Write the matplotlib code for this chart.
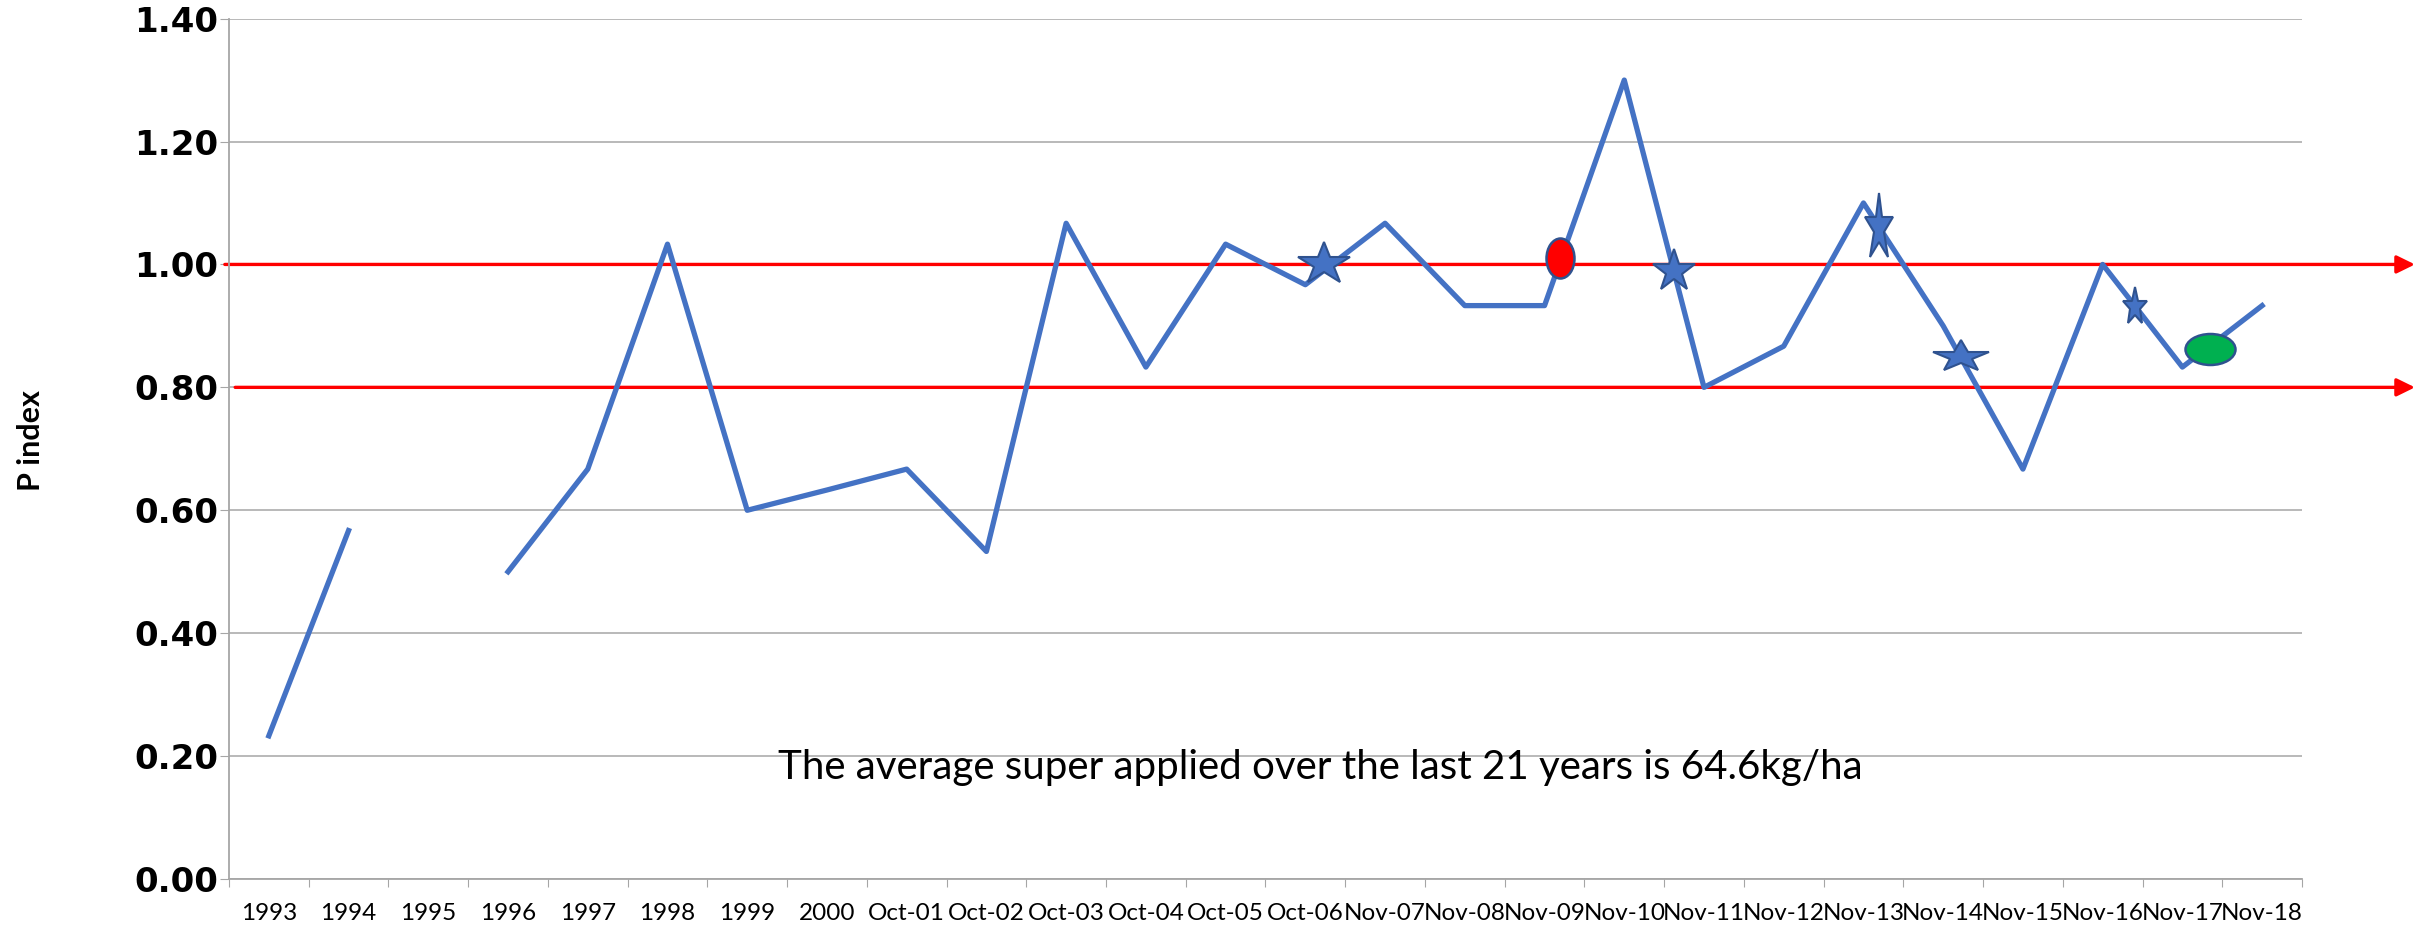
import numpy as np
import matplotlib.pyplot as plt
from matplotlib.markers import MarkerStyle
from matplotlib.transforms import Affine2D

# categories and P index values
labels = ['1993', '1994', '1995', '1996', '1997', '1998', '1999', '2000',
          'Oct-01', 'Oct-02', 'Oct-03', 'Oct-04', 'Oct-05', 'Oct-06',
          'Nov-07', 'Nov-08', 'Nov-09', 'Nov-10', 'Nov-11', 'Nov-12',
          'Nov-13', 'Nov-14', 'Nov-15', 'Nov-16', 'Nov-17', 'Nov-18']
p_index = [0.233, 0.567, np.nan, 0.500, 0.667, 1.033, 0.600, 0.633,
           0.667, 0.533, 1.067, 0.833, 1.033, 0.967,
           1.067, 0.933, 0.933, 1.300, 0.800, 0.867,
           1.100, 0.900, 0.667, 1.000, 0.833, 0.933]
limits = [1.0, 0.8]
yticks = [0.0, 0.2, 0.4, 0.6, 0.8, 1.0, 1.2, 1.4]

# overlay shapes (category position, P index)
star_x = [13.24, 17.62, 20.20, 21.22, 23.41]
star_y = [1.00, 0.99, 1.06, 0.85, 0.93]
red_dot = (16.19, 1.01)
green_dot = (24.35, 0.862)

note = 'The average super applied over the last 21 years is 64.6kg/ha'

fig = plt.figure(figsize=(24.28, 9.30), dpi=100)
ax = fig.add_axes([0.0943, 0.0548, 0.8538, 0.9252])

x = np.arange(len(labels))
ax.plot(x, p_index, color='#4472C4', lw=3.8, zorder=3)

ax.set_xlim(-0.5, len(labels) - 0.5)
ax.set_ylim(0, 1.4)
ax.set_yticks(yticks)
ax.set_yticklabels(['%.2f' % v for v in yticks], fontweight='bold',
                   fontsize=24.5, family='DejaVu Sans')
ax.set_xticks(np.arange(-0.5, len(labels), 1))
ax.set_xticklabels([])
ax.set_xticks(x, labels, minor=True, fontsize=17.5, family='Lato')
ax.tick_params(axis='x', which='major', length=6, color='#A6A6A6')
ax.tick_params(axis='x', which='minor', length=0, pad=17)
ax.tick_params(axis='y', length=6.5, color='#A6A6A6', pad=1)

ax.grid(axis='y', color='#A6A6A6', lw=1.1)
ax.set_axisbelow(True)
for s in ['top', 'right']:
    ax.spines[s].set_visible(False)
for s in ['left', 'bottom']:
    ax.spines[s].set_color('#A6A6A6')
    ax.spines[s].set_linewidth(1.3)

# red limit lines running past the plot area with arrowheads
starts = [-0.002, 0.003]
for lim, st in zip(limits, starts):
    ax.annotate('', xy=(1.0545, lim), xytext=(st, lim),
                xycoords=ax.get_yaxis_transform(),
                annotation_clip=False, zorder=2.5,
                arrowprops=dict(arrowstyle='-|>,head_length=0.55,head_width=0.27',
                                color='red', lw=2.4, mutation_scale=20,
                                shrinkA=0, shrinkB=0))

# star shapes, widths/heights in pixels
star_wh = [(52, 40), (42, 40), (28, 64), (56, 30), (24, 36)]
ms = 40
for sx, sy, (w, h) in zip(star_x, star_y, star_wh):
    kx = w / 1.389 / (0.951 * ms)
    ky = h / 1.389 / (0.905 * ms)
    m = MarkerStyle('*', transform=Affine2D().scale(kx, ky))
    ax.plot(sx, sy, marker=m, ms=ms, color='#4472C4', mec='#2F528F',
            mew=1.5, zorder=4, linestyle='none')

for (ex, ey), fc, (w, h) in [(red_dot, '#FF0000', (28, 40)),
                            (green_dot, '#00B050', (50, 31))]:
    m = MarkerStyle('o', transform=Affine2D().scale(w / 1.389 / ms, h / 1.389 / ms))
    ax.plot(ex, ey, marker=m, ms=ms, color=fc, mec='#2F528F', mew=1.8,
            zorder=4, linestyle='none')

ax.text(13.19, 0.181, note, ha='center', va='center', fontsize=29, family='Lato')

fig.text(31 / 2428, 1 - 441 / 930, 'P index', rotation=90, ha='center',
         va='center', fontweight='bold', fontsize=22,
         family=['Liberation Sans Narrow', 'Lato'])

fig.savefig('out.png', dpi=100)
